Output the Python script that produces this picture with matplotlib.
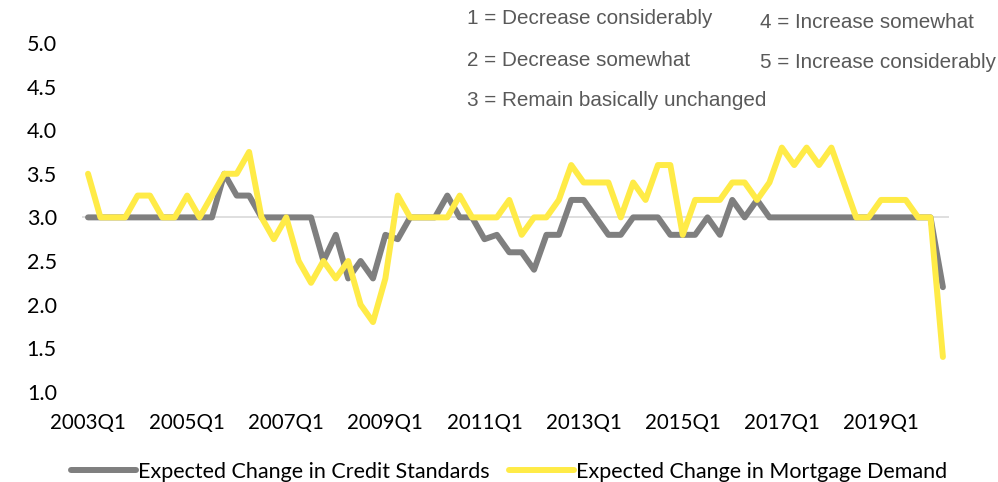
import numpy as np
import matplotlib
matplotlib.use("Agg")
import matplotlib.pyplot as plt

# quarterly survey averages, 2003Q1 .. 2020Q2
quarters = [f"{y}Q{q}" for y in range(2003, 2021) for q in range(1, 5)][:70]

credit_standards = [
    3.0, 3.0, 3.0, 3.0, 3.0, 3.0, 3.0, 3.0, 3.0, 3.0, 3.0, 3.5, 3.25, 3.25,
    3.0, 3.0, 3.0, 3.0, 3.0, 2.5, 2.8, 2.3, 2.5, 2.3, 2.8, 2.75, 3.0, 3.0,
    3.0, 3.25, 3.0, 3.0, 2.75, 2.8, 2.6, 2.6, 2.4, 2.8, 2.8, 3.2, 3.2, 3.0,
    2.8, 2.8, 3.0, 3.0, 3.0, 2.8, 2.8, 2.8, 3.0, 2.8, 3.2, 3.0, 3.2, 3.0,
    3.0, 3.0, 3.0, 3.0, 3.0, 3.0, 3.0, 3.0, 3.0, 3.0, 3.0, 3.0, 3.0, 2.2,
]

mortgage_demand = [
    3.5, 3.0, 3.0, 3.0, 3.25, 3.25, 3.0, 3.0, 3.25, 3.0, 3.25, 3.5, 3.5, 3.75,
    3.0, 2.75, 3.0, 2.5, 2.25, 2.5, 2.3, 2.5, 2.0, 1.8, 2.3, 3.25, 3.0, 3.0,
    3.0, 3.0, 3.25, 3.0, 3.0, 3.0, 3.2, 2.8, 3.0, 3.0, 3.2, 3.6, 3.4, 3.4,
    3.4, 3.0, 3.4, 3.2, 3.6, 3.6, 2.8, 3.2, 3.2, 3.2, 3.4, 3.4, 3.2, 3.4,
    3.8, 3.6, 3.8, 3.6, 3.8, 3.4, 3.0, 3.0, 3.2, 3.2, 3.2, 3.0, 3.0, 1.4,
]

scale_notes = [
    "1 = Decrease considerably",
    "2 = Decrease somewhat",
    "3 = Remain basically unchanged",
    "4 = Increase somewhat",
    "5 = Increase considerably",
]

plt.rcParams['font.family'] = ['Lato', 'DejaVu Sans']

fig = plt.figure(figsize=(9.98, 4.82), dpi=100)
ax = fig.add_axes([0.082, 0.187, 0.869, 0.724])

x = np.arange(len(quarters))
ax.axhline(3.0, color='#d9d9d9', lw=1.2, zorder=1)
ax.plot(x, credit_standards, color='#7f7f7f', lw=4.3, solid_capstyle='round',
        solid_joinstyle='round', label='Expected Change in Credit Standards', zorder=2)
ax.plot(x, mortgage_demand, color='#ffeb47', lw=4.3, solid_capstyle='round',
        solid_joinstyle='round', label='Expected Change in Mortgage Demand', zorder=3)

ax.set_xlim(-0.5, len(quarters) - 0.5)
ax.set_ylim(1.0, 5.0)
ax.set_yticks(np.arange(1.0, 5.01, 0.5))
ax.set_yticklabels([f"{v:.1f}" for v in np.arange(1.0, 5.01, 0.5)])
ax.set_xticks(x[::8])
ax.set_xticklabels(quarters[::8])
ax.tick_params(axis='y', length=0, pad=18, labelsize=15.5)
ax.tick_params(axis='x', length=0, pad=15, labelsize=14.8)
for s in ax.spines.values():
    s.set_visible(False)

# scale legend in the upper right
W, H = 998, 482
note_pos = [(467, 19), (467, 60), (467, 101), (760, 22), (760, 63)]
for txt, (px, py) in zip(scale_notes, note_pos):
    fig.text(px / W, 1 - py / H, txt, ha='left', va='center', color='#595959',
             fontsize=14.9, family='Liberation Sans')

fig.legend(loc='lower center', bbox_to_anchor=(0.51, -0.04), ncol=2, frameon=False,
           fontsize=15.5, handlelength=3.0, handletextpad=0.1, columnspacing=0.9)

fig.savefig("out.png", dpi=100)
